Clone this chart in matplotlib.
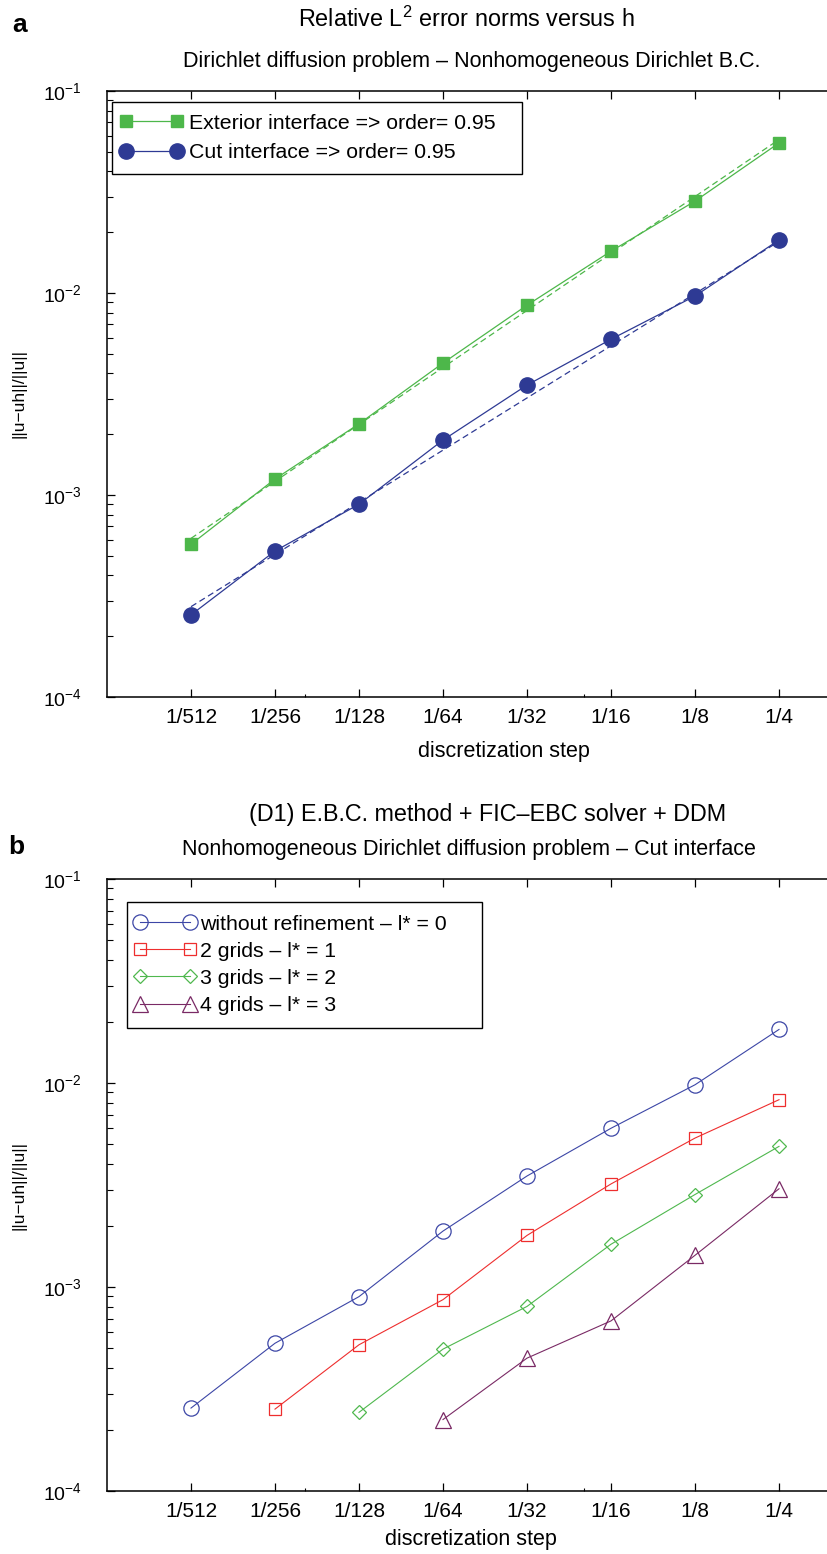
import matplotlib
matplotlib.use('Agg')
import matplotlib.pyplot as plt
from matplotlib.legend_handler import HandlerLine2D
from matplotlib.ticker import FixedLocator, NullFormatter, LogLocator, FixedFormatter

plt.rcParams['font.family'] = ['Liberation Sans', 'DejaVu Sans']
plt.rcParams['mathtext.fontset'] = 'custom'
plt.rcParams['mathtext.rm'] = 'Liberation Sans'
plt.rcParams['mathtext.it'] = 'Liberation Sans:italic'
plt.rcParams['mathtext.bf'] = 'Liberation Sans:bold'

# ---------------- data ----------------
h_labels = ['1/512', '1/256', '1/128', '1/64', '1/32', '1/16', '1/8', '1/4']
h_values = [1/512, 1/256, 1/128, 1/64, 1/32, 1/16, 1/8, 1/4]

# panel a
exterior_err = [5.7e-4, 1.2e-3, 2.25e-3, 4.5e-3, 8.7e-3, 1.61e-2, 2.85e-2, 5.53e-2]
cut_err = [2.55e-4, 5.28e-4, 9.0e-4, 1.87e-3, 3.5e-3, 5.9e-3, 9.66e-3, 1.83e-2]
fit_h = [1/512, 1/4]
exterior_fit = [6.1e-4, 5.75e-2]
cut_fit = [2.8e-4, 1.8e-2]
labels_a = ['Exterior interface => order= 0.95', 'Cut interface => order= 0.95']

# panel b
h_l0 = [1/512, 1/256, 1/128, 1/64, 1/32, 1/16, 1/8, 1/4]
err_l0 = [2.55e-4, 5.3e-4, 8.97e-4, 1.88e-3, 3.5e-3, 6.0e-3, 9.8e-3, 1.83e-2]
h_l1 = [1/256, 1/128, 1/64, 1/32, 1/16, 1/8, 1/4]
err_l1 = [2.52e-4, 5.21e-4, 8.67e-4, 1.79e-3, 3.2e-3, 5.37e-3, 8.28e-3]
h_l2 = [1/128, 1/64, 1/32, 1/16, 1/8, 1/4]
err_l2 = [2.43e-4, 4.96e-4, 8.03e-4, 1.62e-3, 2.84e-3, 4.89e-3]
h_l3 = [1/64, 1/32, 1/16, 1/8, 1/4]
err_l3 = [2.24e-4, 4.48e-4, 6.82e-4, 1.43e-3, 3.03e-3]
labels_b = ['without refinement \u2013 l* = 0', '2 grids \u2013 l* = 1',
            '3 grids \u2013 l* = 2', '4 grids \u2013 l* = 3']

extra_xticks = [0.005, 0.05]

# ---------------- figure ----------------
W, H = 828, 1554
fig = plt.figure(figsize=(W / 100, H / 100), dpi=100)


def fx(px):
    return px / W


def fy(py):
    return 1 - py / H


AX_L = 107
AX_W = 756  # xlim spans 1/1024 .. 1/2


def make_axes(top, bottom):
    ax = fig.add_axes([fx(AX_L), fy(bottom), AX_W / W, (bottom - top) / H])
    ax.set_xscale('log', base=2)
    ax.set_yscale('log')
    ax.set_xlim(2 ** -10, 2 ** -1)
    ax.set_ylim(1e-4, 1e-1)
    ax.xaxis.set_major_locator(FixedLocator(h_values))
    ax.xaxis.set_major_formatter(FixedFormatter(h_labels))
    ax.xaxis.set_minor_locator(FixedLocator(extra_xticks))
    ax.xaxis.set_minor_formatter(NullFormatter())
    ax.yaxis.set_major_locator(LogLocator(base=10))
    ax.yaxis.set_minor_locator(LogLocator(base=10, subs=range(2, 10)))
    ax.yaxis.set_minor_formatter(NullFormatter())
    ax.tick_params(axis='x', which='major', direction='in', top=True, bottom=True,
                   length=6, width=0.9, labelsize=15, pad=8)
    ax.tick_params(axis='x', which='minor', direction='in', top=False, bottom=True,
                   length=2.5, width=0.8)
    ax.tick_params(axis='y', which='major', direction='in', left=True, right=True,
                   length=6, width=0.9, labelsize=14, pad=18)
    ax.tick_params(axis='y', which='minor', direction='in', left=True, right=True,
                   length=4, width=0.8)
    for s in ax.spines.values():
        s.set_linewidth(1.1)
    return ax


# ---------- panel a ----------
GREEN_A = '#4DB74A'
BLUE_A = '#2E3A94'
axa = make_axes(91, 697)
la1, = axa.plot(h_values, exterior_err, '-', color=GREEN_A, lw=0.9, marker='s', ms=9,
                mfc=GREEN_A, mec=GREEN_A, zorder=3)
la2, = axa.plot(h_values, cut_err, '-', color=BLUE_A, lw=0.9, marker='o', ms=11,
                mfc=BLUE_A, mec=BLUE_A, zorder=3)
axa.plot(fit_h, exterior_fit, '--', color=GREEN_A, lw=0.9, dashes=(5, 3), zorder=2)
axa.plot(fit_h, cut_fit, '--', color=BLUE_A, lw=0.9, dashes=(5, 3), zorder=2)

lega = axa.legend([la1, la2], labels_a, loc='upper left',
                  bbox_to_anchor=(fx(112), fy(168), 410 / W, 66 / H),
                  bbox_transform=fig.transFigure, mode='expand', borderaxespad=0,
                  fontsize=15.3, borderpad=0.55, handlelength=2.64, handletextpad=0.45,
                  labelspacing=0.5, fancybox=False, framealpha=1, edgecolor='black',
                  handler_map={la1: HandlerLine2D(numpoints=2, marker_pad=0.12),
                               la2: HandlerLine2D(numpoints=2, marker_pad=0.12)})
lega.get_frame().set_linewidth(1.0)

axa.set_xlabel('discretization step', fontsize=15.5)
axa.xaxis.set_label_coords((504 - AX_L) / AX_W, (697 - 752) / (697 - 91))
axa.xaxis.label.set_va('center')
axa.set_ylabel('||u\u2212uh||/||u||', fontsize=12.5)
axa.yaxis.set_label_coords((19 - AX_L) / AX_W, 0.5)
axa.yaxis.label.set_va('center')

fig.text(fx(466), fy(19), 'Relative L$^2$ error norms versus h', fontsize=16.8,
         ha='center', va='center')
fig.text(fx(472), fy(62), 'Dirichlet diffusion problem \u2013 Nonhomogeneous Dirichlet B.C.',
         fontsize=15.5, ha='center', va='center')
fig.text(fx(20), fy(25), 'a', fontsize=19, fontweight='bold', ha='center', va='center')

# ---------- panel b ----------
C0 = '#3C46A6'
C1 = '#EE2E2E'
C2 = '#4FB84E'
C3 = '#7A2A65'
axb = make_axes(879, 1491)
lb0, = axb.plot(h_l0, err_l0, '-', color=C0, lw=0.8, marker='o', ms=11,
                mfc='none', mec=C0, mew=0.9)
lb1, = axb.plot(h_l1, err_l1, '-', color=C1, lw=0.8, marker='s', ms=8,
                mfc='none', mec=C1, mew=0.9)
lb2, = axb.plot(h_l2, err_l2, '-', color=C2, lw=0.8, marker='D', ms=7.6,
                mfc='none', mec=C2, mew=0.9)
lb3, = axb.plot(h_l3, err_l3, '-', color=C3, lw=0.8, marker='^', ms=11,
                mfc='none', mec=C3, mew=0.9)

hb = {l: HandlerLine2D(numpoints=2, marker_pad=0.01) for l in (lb0, lb1, lb2, lb3)}
legb = axb.legend([lb0, lb1, lb2, lb3], labels_b, loc='upper left',
                  bbox_to_anchor=(fx(127), fy(1017), 355 / W, 115 / H),
                  bbox_transform=fig.transFigure, mode='expand', borderaxespad=0,
                  fontsize=15.3, borderpad=0.6, handlelength=2.38, handletextpad=0.45,
                  labelspacing=0.38, fancybox=False, framealpha=1, edgecolor='black',
                  handler_map=hb)
legb.get_frame().set_linewidth(1.0)

axb.set_xlabel('discretization step', fontsize=15.5)
axb.xaxis.set_label_coords((471 - AX_L) / AX_W, (1491 - 1540) / (1491 - 879))
axb.xaxis.label.set_va('center')
axb.set_ylabel('||u\u2212uh||/||u||', fontsize=12.5)
axb.yaxis.set_label_coords((19 - AX_L) / AX_W, 0.5)
axb.yaxis.label.set_va('center')

fig.text(fx(488), fy(815), '(D1) E.B.C. method + FIC\u2013EBC solver + DDM', fontsize=16.8,
         ha='center', va='center')
fig.text(fx(469), fy(849), 'Nonhomogeneous Dirichlet diffusion problem \u2013 Cut interface',
         fontsize=15.5, ha='center', va='center')
fig.text(fx(16), fy(847), 'b', fontsize=19, fontweight='bold', ha='center', va='center')

fig.savefig('out.png', dpi=100)
